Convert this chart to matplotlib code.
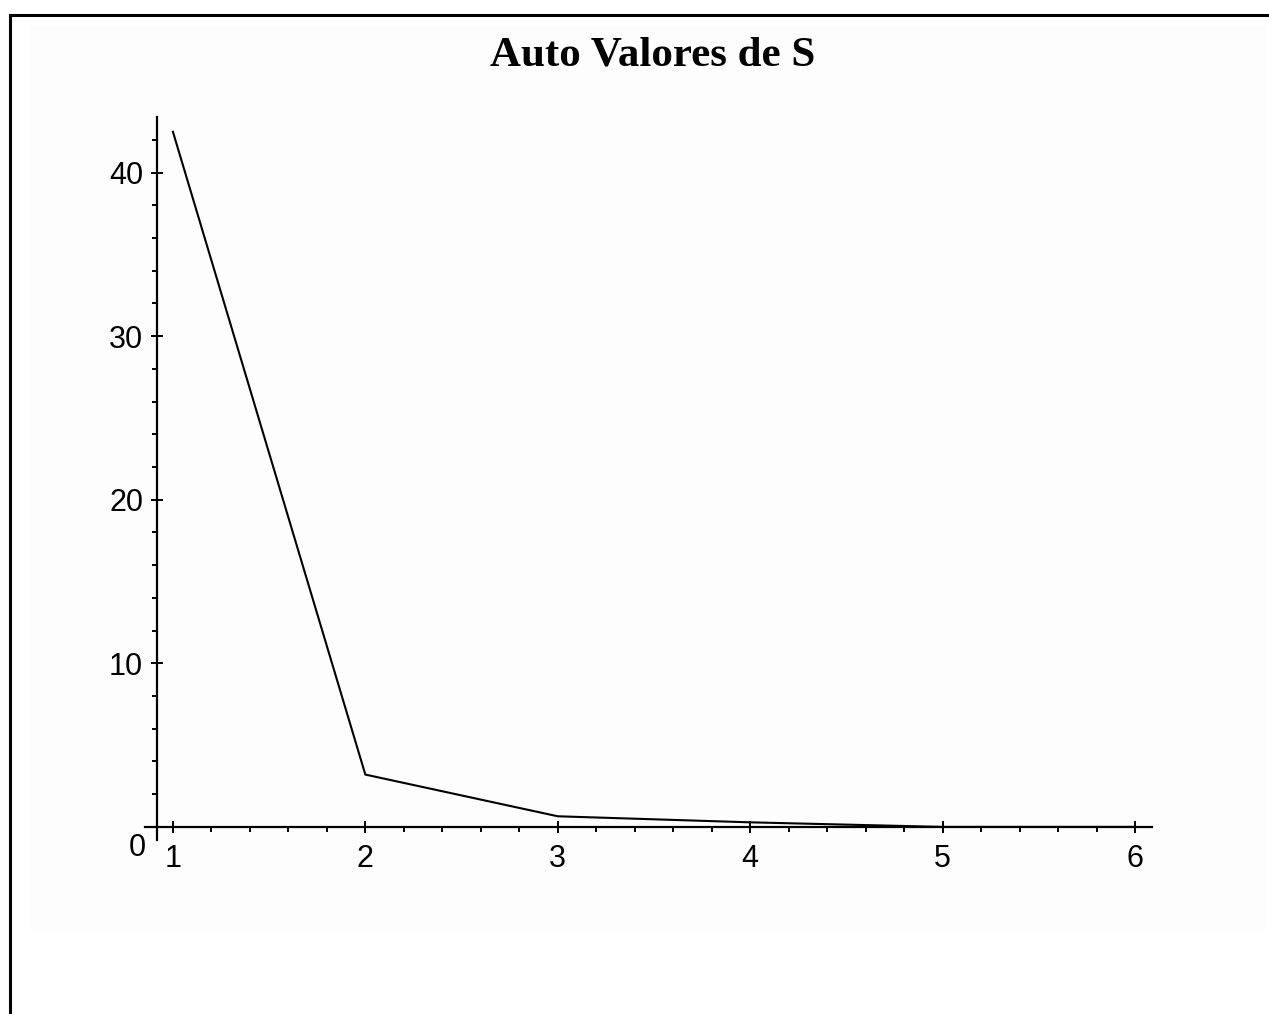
import matplotlib
matplotlib.use("Agg")
import matplotlib.pyplot as plt
from matplotlib.patches import Rectangle
from matplotlib.lines import Line2D
from matplotlib.ticker import MultipleLocator, FixedLocator

# Data
indices = [1, 2, 3, 4, 5, 6]
eigenvalues = [42.5, 3.2, 0.65, 0.28, 0.0, 0.0]
x_major = [1, 2, 3, 4, 5, 6]
y_major = [10, 20, 30, 40]
title = "Auto Valores de S"

W, H = 1269, 1014
fig = plt.figure(figsize=(W / 100, H / 100), dpi=100)
fig.patch.set_facecolor("white")

# faint panel background
fig.patches.append(Rectangle((30 / W, 1 - 930 / H), (1265 - 30) / W, (930 - 25) / H,
                             transform=fig.transFigure, facecolor="#fdfdfd",
                             edgecolor="none", zorder=-10))
# outer frame (left and top)
fig.lines.append(Line2D([10 / W, 10 / W], [0, 1 - 15 / H], transform=fig.transFigure,
                        color="black", lw=2.2))
fig.lines.append(Line2D([10 / W, 1], [1 - 15 / H, 1 - 15 / H], transform=fig.transFigure,
                        color="black", lw=2.2))

ax = fig.add_axes([145 / W, 1 - 840 / H, (1152 - 145) / W, (840 - 117) / H])
ax.set_facecolor("none")
ax.plot(indices, eigenvalues, color="black", lw=1.5, zorder=3)

ax.set_xlim(0.855, 6.088)
ax.set_ylim(-0.8, 43.4)

for s in ["top", "right"]:
    ax.spines[s].set_visible(False)
ax.spines["left"].set_position(("data", 0.917))
ax.spines["bottom"].set_position(("data", 0))
ax.spines["left"].set_linewidth(1.6)
ax.spines["bottom"].set_linewidth(1.6)

font = ["Liberation Sans", "DejaVu Sans"]
ax.xaxis.set_major_locator(FixedLocator(x_major))
ax.xaxis.set_minor_locator(MultipleLocator(0.2))
ax.yaxis.set_major_locator(FixedLocator(y_major))
ax.yaxis.set_minor_locator(MultipleLocator(2))
ax.tick_params(axis="both", which="major", direction="inout", length=8, width=1.4,
               labelsize=22, color="black")
ax.tick_params(axis="both", which="minor", direction="out", length=3.5, width=1.4)
ax.tick_params(axis="x", which="major", pad=8)
ax.tick_params(axis="y", which="major", pad=6)
for lab in ax.get_xticklabels() + ax.get_yticklabels():
    lab.set_fontfamily(font)

ax.annotate("0", xy=(0.917, 0), xycoords="data", xytext=(-14, -15),
            textcoords="offset points", ha="center", va="center",
            fontsize=22, family=font)

fig.text(653 / W, 1 - 65 / H, title, ha="center", va="baseline",
         fontsize=31, fontweight="bold", family=["Liberation Serif", "DejaVu Serif"])

fig.savefig("out.png", dpi=100)
